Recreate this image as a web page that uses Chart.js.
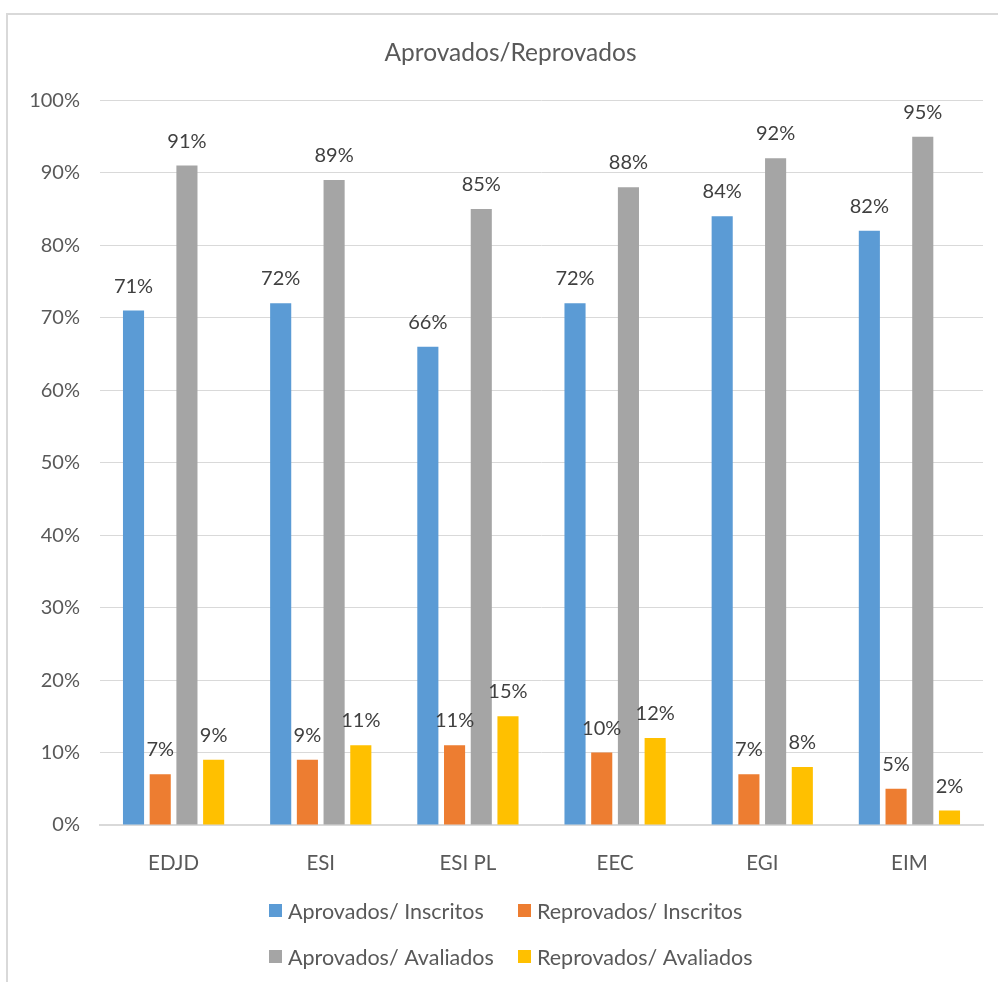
<!DOCTYPE html>
<html>
<head>
<meta charset="utf-8">
<title>Aprovados/Reprovados</title>
<script src="https://cdn.jsdelivr.net/npm/chart.js@4.4.1/dist/chart.umd.min.js"></script>
<style>
  html, body { margin: 0; padding: 0; background: #fff; overflow: hidden; }
  #moldura {
    position: absolute; left: 6px; top: 13px;
    border-left: 2px solid #d9d9d9; border-top: 2px solid #d9d9d9;
  }
  canvas { display: block; }
</style>
</head>
<body>
<div id="moldura"><canvas id="grafico" width="990" height="967"></canvas></div>
<script>
// Dados (percentagens)
const cursos = ['EDJD', 'ESI', 'ESI PL', 'EEC', 'EGI', 'EIM'];
const aprovadosInscritos = [71, 72, 66, 72, 84, 82];
const reprovadosInscritos = [7, 9, 11, 10, 7, 5];
const aprovadosAvaliados = [91, 89, 85, 88, 92, 95];
const reprovadosAvaliados = [9, 11, 15, 12, 8, 2];
const seriesNomes = ['Aprovados/ Inscritos', 'Reprovados/ Inscritos', 'Aprovados/ Avaliados', 'Reprovados/ Avaliados'];
const ticksY = [0, 10, 20, 30, 40, 50, 60, 70, 80, 90, 100];

const cores = ['#5b9bd5', '#ed7d31', '#a5a5a5', '#ffc000'];
const corTexto = '#595959';
const fonte = 'Lato, "Open Sans", sans-serif';

Chart.defaults.font.family = fonte;
Chart.defaults.color = corTexto;

// Rótulos de valor por cima de cada barra
const rotulosValor = {
  id: 'rotulosValor',
  afterDatasetsDraw(chart) {
    const ctx = chart.ctx;
    ctx.save();
    ctx.font = '20px ' + fonte;
    ctx.fillStyle = '#404040';
    ctx.textAlign = 'center';
    ctx.textBaseline = 'alphabetic';
    chart.data.datasets.forEach((ds, i) => {
      chart.getDatasetMeta(i).data.forEach((barra, j) => {
        ctx.fillText(ds.data[j] + '%', barra.x, barra.y - 18);
      });
    });
    ctx.restore();
  }
};

// Legenda em grelha 2x2, como no Excel
const legendaGrelha = {
  id: 'legendaGrelha',
  afterDraw(chart) {
    const ctx = chart.ctx;
    const colunas = [261, 510];
    const linhas = [896, 942];
    ctx.save();
    ctx.font = '21.5px ' + fonte;
    ctx.textAlign = 'left';
    ctx.textBaseline = 'middle';
    chart.data.datasets.forEach((ds, i) => {
      const x = colunas[i % 2];
      const y = linhas[Math.floor(i / 2)];
      ctx.fillStyle = ds.backgroundColor;
      ctx.fillRect(x, y - 7, 13, 13);
      ctx.fillStyle = corTexto;
      ctx.fillText(ds.label, x + 19, y + 1);
    });
    ctx.restore();
  }
};

// O Excel centra o título um pouco mais à direita
const tituloDeslocado = {
  id: 'tituloDeslocado',
  afterLayout(chart) {
    if (chart.titleBlock) {
      chart.titleBlock.left += 15;
      chart.titleBlock.right += 15;
    }
  }
};

const valores = [aprovadosInscritos, reprovadosInscritos, aprovadosAvaliados, reprovadosAvaliados];

new Chart(document.getElementById('grafico'), {
  type: 'bar',
  data: {
    labels: cursos,
    datasets: valores.map((v, i) => ({
      label: seriesNomes[i],
      data: v,
      backgroundColor: cores[i],
      borderWidth: 0,
      categoryPercentage: 0.726,
      barPercentage: 0.79,
    })),
  },
  options: {
    responsive: false,
    animation: false,
    devicePixelRatio: 1,
    layout: { padding: { left: 0, right: 15, top: 0, bottom: 107 } },
    plugins: {
      legend: { display: false },
      tooltip: { enabled: false },
      title: {
        display: true,
        text: 'Aprovados/Reprovados',
        color: corTexto,
        font: { size: 24.5, weight: 'normal' },
        padding: { top: 23, bottom: 33 },
      },
    },
    scales: {
      x: {
        grid: { display: false },
        border: { display: true, color: '#d9d9d9', width: 2 },
        ticks: { color: corTexto, font: { size: 20.5 }, padding: 18 },
        afterFit: (s) => { s.height = 50; },
      },
      y: {
        min: 0,
        max: 100,
        afterBuildTicks: (s) => { s.ticks = ticksY.map((v) => ({ value: v })); },
        grid: { color: '#d9d9d9', lineWidth: 1, drawTicks: false },
        border: { display: false },
        ticks: { color: corTexto, font: { size: 20 }, padding: 20, callback: (v) => v + '%' },
        afterFit: (s) => { s.width = 92; },
      },
    },
  },
  plugins: [rotulosValor, legendaGrelha, tituloDeslocado],
});
</script>
</body>
</html>
